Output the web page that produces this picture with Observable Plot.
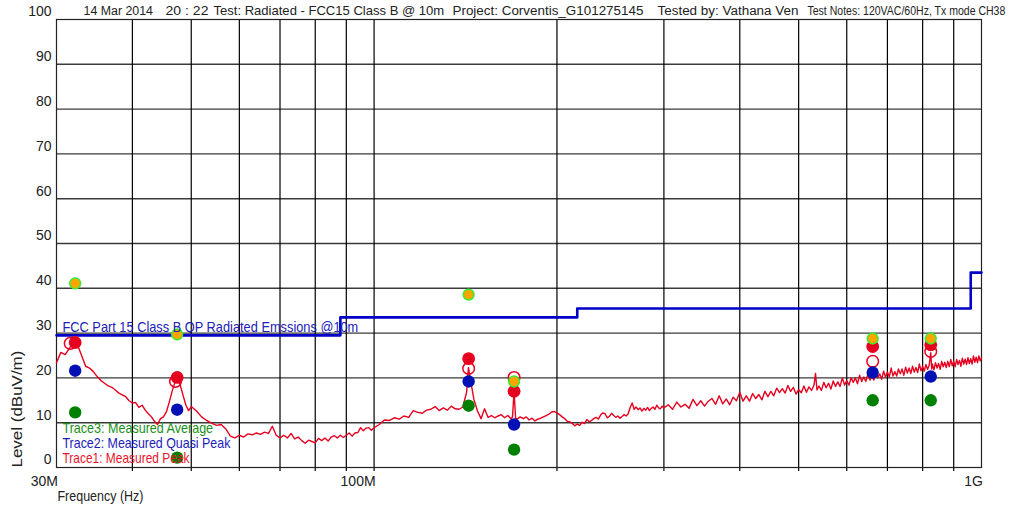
<!DOCTYPE html>
<html><head><meta charset="utf-8">
<script src="https://cdn.jsdelivr.net/npm/d3@7"></script>
<script src="https://cdn.jsdelivr.net/npm/@observablehq/plot@0.6"></script>
<style>
html,body{margin:0;padding:0;background:#fff;}
svg text{white-space:pre;}
</style></head><body><div id="chart"></div>
<script>
// ---- data ----
const titleParts = ["14 Mar 2014","20 : 22","Test: Radiated - FCC15 Class B @ 10m","Project: Corventis_G101275145","Tested by: Vathana Ven","Test Notes: 120VAC/60Hz, Tx mode CH38"];
const yTicks = [0,10,20,30,40,50,60,70,80,90,100];
const yGrid = [10,20,30,40,50,60,70,80,90];
const xTickValues = [30,100,1000];
const xTickLabels = ["30M","100M","1G"];
const xGrid = [40,50,60,70,80,90,100,200,300,400,500,600,700,800,900];
const xLabel = "Frequency (Hz)";
const yLabel = "Level (dBuV/m)";
const limitLabel = "FCC Part 15 Class B QP Radiated Emssions @10m";
const legendLabels = ["Trace3: Measured Average","Trace2: Measured Quasi Peak","Trace1: Measured Peak"];

const limitFreq  = [30, 88, 216, 960, 1000];
const limitLevel = [29.5, 33.5, 35.5, 43.5, 43.5];

const markerFreq    = [32.2, 47.4, 143.1, 170.0, 662, 825];
const openFreq      = [31.6, 47.1, 143.1, 170.0, 662, 825];
const peakLevel     = [27.9, 20.1, 24.3, 17.0, 27.0, 27.4];
const peakOpenLevel = [27.7, 19.2, 22.1, 20.1, 23.7, 25.9];
const qpLevel       = [21.6, 12.9, 19.2, 9.6, 21.2, 20.3];
const avgLevel      = [12.3, 2.2, 13.8, 4.0, 15.0, 15.0];
const markLevel     = [41.1, 29.7, 38.6, 19.2, 28.8, 28.8];

// Trace1 measured peak sweep: [MHz, dBuV/m]
const peakTrace = [
[30,23.4],[30.5,25.7],[31,25.2],[31.5,26.6],[32,28.0],[32.5,27.3],[33,25.0],[33.5,22.6],[34,22.2],[34.5,21.4],
[35,20.3],[35.5,19.4],[36,18.8],[36.5,18.2],[37,17.9],[37.5,17.3],[38,16.6],[38.5,16.2],[39,15.8],[39.5,14.9],
[40,14.4],[40.5,14.5],[41,13.4],[41.5,13.9],[42,12.8],[42.5,12.0],[43,11.3],[43.5,10.3],[44,9.6],[44.5,10.9],
[45,11.3],[45.5,12.4],[46,14.6],[46.5,17.0],[47,19.0],[47.5,20.0],[48,18.2],[48.5,16.0],[49,13.9],[49.5,12.7],
[50,13.6],[51,12.6],[52,11.3],[53,10.5],[54,9.9],[55,9.4],[56,9.6],[57,8.6],[58,7.0],[59,6.6],
[60,7.2],[61,6.8],[62,7.5],[63,7.3],[64,7.7],[65,7.4],[66,7.9],[67,7.6],[68,9.2],[69,7.2],
[70,6.6],[71,7.2],[72,6.6],[73,7.6],[74,6.4],[75,6.8],[76,6.0],[77,5.4],[78,6.1],[79,5.8],
[80,5.5],[81,6.5],[82,6.0],[83,6.6],[84,5.9],[85,6.8],[86,7.1],[87,6.6],[88,7.2],[89,6.7],
[90,7.2],[91,7.7],[92,7.0],[93,7.7],[94,7.8],[95,8.9],[96,8.2],[97,8.8],[98,8.9],[99,8.3],
[100,8.9],[102,9.6],[104,10.6],[106,10.5],[108,11.1],[110,10.8],[112,11.5],[114,11.2],[116,12.7],[118,12.3],
[120,12.1],[122,12.8],[124,13.0],[126,13.6],[128,12.7],[130,13.3],[132,12.8],[134,13.7],[136,13.1],[138,13.0],
[140,13.5],[142,16.8],[143,22.3],[144,19.8],[146,15.2],[148,12.6],[150,10.9],[152,13.1],[154,11.2],[156,11.6],
[158,11.1],[160,11.5],[162,11.8],[164,11.1],[166,11.6],[168,10.9],[169,11.3],[170,17.0],[171,11.0],[172,10.8],
[174,11.3],[176,10.9],[178,11.3],[180,10.6],[182,11.0],[184,10.4],[186,10.8],[188,11.0],[190,11.3],[192,11.6],
[194,11.9],[196,12.4],[198,12.5],[200,12.2],[202,11.8],[204,11.3],[206,10.9],[208,10.3],[210,10.2],[212,9.8],
[214,9.3],[216,9.7],[218,9.4],[220,10.1],[222,9.8],[224,10.7],[226,10.2],[228,10.5],[230,10.9],[232,11.2],
[234,10.8],[236,11.7],[238,12.2],[240,12.0],[242,11.1],[244,11.4],[246,12.1],[248,11.6],[250,11.2],[252,11.5],
[254,11.0],[256,11.4],[258,11.8],[260,11.5],[262,12.0],[264,13.4],[266,14.4],[268,13.0],[270,13.5],[272,12.9],
[274,13.3],[276,12.6],[278,13.2],[280,12.8],[282,13.4],[284,12.7],[286,13.2],[288,13.5],[290,13.0],[292,13.9],
[294,13.3],[296,13.1],[298,13.7],[300,13.3],[305,14.0],[310,13.0],[315,14.6],[320,13.5],[325,14.1],[330,13.2],
[335,15.2],[340,13.8],[345,14.9],[350,13.7],[355,14.8],[360,15.4],[365,14.1],[370,16.0],[375,14.2],[380,15.3],
[385,14.0],[390,15.7],[395,14.9],[400,16.8],[405,14.8],[410,16.0],[415,14.8],[420,16.5],[425,15.4],[430,16.3],
[435,15.1],[440,17.0],[445,15.8],[450,17.0],[455,16.0],[460,17.7],[465,16.7],[470,17.6],[475,16.6],[480,18.3],
[485,17.0],[490,17.9],[495,16.4],[500,17.4],[505,16.7],[510,18.2],[515,16.8],[520,18.0],[525,17.2],[530,18.4],
[533,21.0],[536,17.3],[540,18.2],[545,17.2],[550,19.0],[555,17.8],[560,18.8],[565,17.5],[570,19.3],[575,18.1],
[580,19.1],[585,18.1],[590,20.0],[595,18.4],[600,19.4],[605,18.4],[610,20.0],[615,19.0],[620,20.0],[625,18.7],
[630,20.6],[635,19.2],[640,20.2],[645,19.2],[650,20.8],[655,19.5],[660,20.7],[665,19.5],[670,21.3],[675,20.0],
[680,20.9],[685,19.7],[690,21.5],[695,20.2],[700,21.3],[705,20.2],[710,22.2],[715,20.4],[720,21.4],[725,20.4],
[730,22.0],[735,20.9],[740,22.0],[745,20.6],[750,22.4],[755,21.1],[760,22.2],[765,21.0],[770,22.6],[775,21.3],
[780,22.3],[785,21.2],[790,23.1],[795,21.6],[800,22.6],[805,21.5],[810,23.0],[815,21.9],[820,22.8],[825,25.6],
[828,22.0],[830,23.1],[835,21.8],[840,23.4],[845,22.2],[850,23.2],[855,21.9],[860,23.7],[865,22.5],[870,23.5],
[875,22.3],[880,23.7],[885,22.5],[890,24.1],[895,22.7],[900,23.7],[905,22.5],[910,24.1],[915,23.0],[920,23.9],
[925,22.6],[930,24.4],[935,23.1],[940,24.2],[945,23.0],[950,24.5],[955,23.2],[960,24.3],[965,23.1],[970,24.9],
[975,23.5],[980,24.6],[985,23.4],[990,24.9],[995,23.8],[1000,24.5]
];

// ---- layout (pixels) ----
const titleOffsets = [27, 109, 157, 396, 601, 751];   // from the plot's left edge
const titleWidths  = [70, 43, 231, 191, 141, 198];

// ---- build tables ----
const limitData = limitFreq.map((f,i)=>({f, v: limitLevel[i]}));
const trace = peakTrace.map(([f,v])=>({f,v}));
const pts = (fs, vs) => fs.map((f,i)=>({f, v: vs[i]}));

const RED="#e6001f", BLUE="#0010b4", GREEN="#008000";
const font = "'Liberation Sans',Arial,sans-serif";

const titleMarks = titleParts.map((t,i)=>Plot.text([t],{frameAnchor:"top-left", dx:titleOffsets[i], dy:-8.5, textAnchor:"start", lineAnchor:"middle", fill:"#222", fontSize:13.5}));

const chart = Plot.plot({
  width:1021, height:506,
  marginLeft:56, marginRight:40, marginTop:19, marginBottom:39,
  style:{fontFamily:font, fontSize:"14px", background:"#fff", overflow:"visible", color:"#222"},
  x:{type:"log", domain:[30,1000], axis:null},
  y:{domain:[0,100], axis:null},
  marks:[
    Plot.ruleY(yGrid,{stroke:"#3a3a3a", strokeWidth:1.4}),
    Plot.ruleX(xGrid,{stroke:"#000", strokeWidth:1.2, insetBottom:-4}),
    Plot.frame({stroke:"#222", strokeWidth:1.2}),
    Plot.line(limitData,{x:"f", y:"v", curve:"step-after", stroke:"#0000c8", strokeWidth:2.6}),
    Plot.line(trace,{x:"f", y:"v", stroke:RED, strokeWidth:1.4}),
    Plot.dot(pts(openFreq, peakOpenLevel),{x:"f", y:"v", r:5.8, stroke:RED, strokeWidth:1.5, fill:"none"}),
    Plot.dot(pts(markerFreq, peakLevel),{x:"f", y:"v", r:6.4, fill:RED}),
    Plot.dot(pts(markerFreq, qpLevel),{x:"f", y:"v", r:6.2, fill:BLUE}),
    Plot.dot(pts(markerFreq, avgLevel),{x:"f", y:"v", r:6.2, fill:GREEN}),
    Plot.dot(pts(markerFreq, markLevel),{x:"f", y:"v", r:5.4, fill:"#ffa500", stroke:"#33ee33", strokeWidth:1.5}),
    // y tick labels
    Plot.text(yTicks,{y:d=>d, frameAnchor:"left", dx:-5, dy:-7.5, textAnchor:"end", lineAnchor:"middle", fill:"#222", fontSize:14}),
    // x tick labels
    Plot.text(xTickValues,{x:d=>d, text:(d,i)=>xTickLabels[i], frameAnchor:"bottom", dx:1.5, dy:14, textAnchor:"end", lineAnchor:"middle", fill:"#222", fontSize:14}),
    // axis labels
    Plot.text([xLabel],{frameAnchor:"bottom-left", dx:1, dy:29, textAnchor:"start", lineAnchor:"middle", fill:"#222", fontSize:14}),
    Plot.text([yLabel],{frameAnchor:"bottom-left", dx:-39.5, rotate:-90, textAnchor:"start", lineAnchor:"middle", fill:"#222", fontSize:15}),
    // title
    ...titleMarks,
    // limit label
    Plot.text([limitLabel],{x:30, y:29.5, dx:6, dy:-7.5, textAnchor:"start", lineAnchor:"middle", fill:"#2020b8", fontSize:14}),
    // legend
    Plot.text([legendLabels[0]],{frameAnchor:"bottom-left", dx:6, dy:-39, textAnchor:"start", lineAnchor:"middle", fill:"#179017", fontSize:14}),
    Plot.text([legendLabels[1]],{frameAnchor:"bottom-left", dx:6, dy:-24, textAnchor:"start", lineAnchor:"middle", fill:"#1c1cbc", fontSize:14}),
    Plot.text([legendLabels[2]],{frameAnchor:"bottom-left", dx:6, dy:-9, textAnchor:"start", lineAnchor:"middle", fill:"#e8142c", fontSize:14})
  ]
});
document.getElementById("chart").appendChild(chart);

// scale texts to the widths seen in the reference, about their start point
const fit = {};
titleParts.forEach((t,i)=>{ fit[t] = titleWidths[i]; });
fit[limitLabel] = 296;
fit[legendLabels[0]] = 151;
fit[legendLabels[1]] = 169;
fit[legendLabels[2]] = 128;
fit[xLabel] = 86;
fit[yLabel] = 117;
const svgRect = chart.getBoundingClientRect();
const NS = "http://www.w3.org/2000/svg";
Array.from(chart.querySelectorAll("text")).forEach(function(el){
  const t = el.textContent;
  if (!fit[t]) return;
  const r = el.getBoundingClientRect();
  const target = (el.parentNode === chart) ? el : el.parentNode;
  const wrap = document.createElementNS(NS, "g");
  target.parentNode.insertBefore(wrap, target);
  wrap.appendChild(target);
  if (t === yLabel) {
    if (!r.height) return;
    const by = r.bottom - svgRect.top, s = fit[t] / r.height;
    wrap.setAttribute("transform", `translate(0,${by}) scale(1,${s}) translate(0,${-by})`);
  } else {
    if (!r.width) return;
    const bx = r.left - svgRect.left, s = fit[t] / r.width;
    wrap.setAttribute("transform", `translate(${bx},0) scale(${s},1) translate(${-bx},0)`);
  }
});
</script></body></html>
